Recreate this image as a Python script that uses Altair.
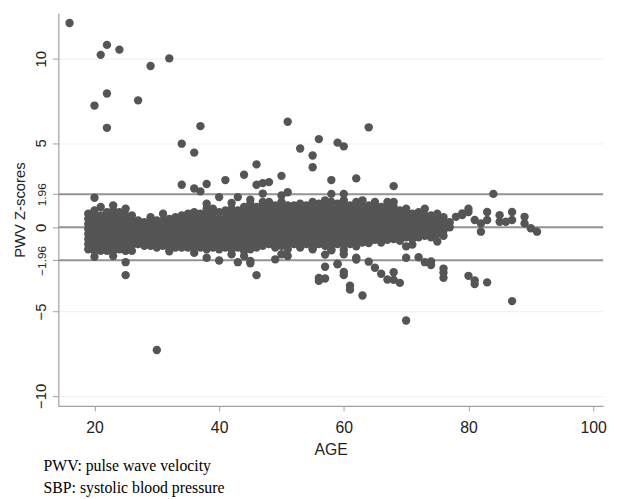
import altair as alt
import pandas as pd

# Dense core of the cloud: z-scores read per integer age
band = {
    19: [-1.3, -1.0, -0.7, -0.4, -0.1, 0.2, 0.5, 0.8],
    20: [-1.75, -1.4, -1.1, -0.8, -0.5, -0.2, 0.1, 0.4, 0.7, 1.0, 1.75],
    21: [-1.4, -1.1, -0.8, -0.5, -0.2, 0.1, 0.4, 0.7, 1.2],
    22: [-1.4, -1.1, -0.8, -0.5, -0.3, 0.0, 0.3, 0.6, 0.9],
    23: [-1.71, -1.4, -1.1, -0.8, -0.5, -0.2, 0.1, 0.4, 0.7, 1.0, 1.3],
    24: [-1.3, -1.0, -0.7, -0.4, -0.1, 0.2, 0.5, 0.9],
    25: [-2.84, -2.07, -1.4, -1.1, -0.8, -0.5, -0.2, 0.1, 0.4, 0.7, 1.1],
    26: [-1.4, -1.1, -0.8, -0.5, -0.2, 0.1, 0.4, 0.7],
    27: [-1.0, -0.7, -0.4, -0.1, 0.2, 0.4],
    28: [-1.1, -0.8, -0.5, -0.2, 0.1, 0.3],
    29: [-1.1, -0.8, -0.5, -0.2, 0.1, 0.3, 0.6],
    30: [-1.2, -0.9, -0.6, -0.3, 0.0, 0.2, 0.4],
    31: [-1.1, -0.8, -0.5, -0.2, 0.1, 0.4, 0.8],
    32: [-1.42, -1.1, -0.8, -0.5, -0.2, 0.1, 0.3, 0.5],
    33: [-1.2, -0.9, -0.6, -0.3, 0.0, 0.3, 0.6],
    34: [-1.2, -0.9, -0.6, -0.3, 0.0, 0.3, 0.5, 0.7],
    35: [-1.2, -0.9, -0.6, -0.3, 0.0, 0.3, 0.5, 0.8],
    36: [-1.52, -1.2, -0.9, -0.6, -0.3, 0.0, 0.3, 0.6, 0.9],
    37: [-1.2, -0.9, -0.6, -0.3, 0.0, 0.3, 0.5, 0.8],
    38: [-1.81, -1.3, -1.0, -0.7, -0.4, -0.1, 0.2, 0.5, 0.8, 1.1, 1.4],
    39: [-1.2, -0.9, -0.6, -0.3, 0.0, 0.3, 0.6, 0.9, 1.1],
    40: [-1.97, -1.3, -1.0, -0.7, -0.4, -0.1, 0.2, 0.5, 0.9, 1.79],
    41: [-1.2, -0.9, -0.6, -0.3, 0.0, 0.3, 0.6, 1.0],
    42: [-1.6, -1.3, -1.0, -0.7, -0.4, -0.1, 0.2, 0.5, 0.8, 1.1, 1.44],
    43: [-2.07, -1.2, -0.9, -0.6, -0.3, 0.0, 0.3, 0.6, 1.0, 1.79],
    44: [-1.71, -1.4, -1.1, -0.8, -0.5, -0.2, 0.1, 0.4, 0.7, 1.0, 1.2],
    45: [-2.14, -2.0, -1.3, -1.0, -0.7, -0.4, -0.1, 0.2, 0.5, 0.8, 1.1, 1.4, 1.63],
    46: [-2.84, -1.2, -0.9, -0.6, -0.3, 0.0, 0.3, 0.6, 0.9, 1.2],
    47: [-1.1, -0.8, -0.5, -0.2, 0.1, 0.4, 0.7, 1.0, 1.3, 1.5],
    48: [-1.0, -0.7, -0.4, -0.1, 0.2, 0.5, 0.8, 1.1, 1.4, 1.5],
    49: [-1.9, -1.2, -0.9, -0.6, -0.3, 0.0, 0.3, 0.6, 0.9, 1.1, 1.3],
    50: [-1.6, -1.1, -0.8, -0.5, -0.2, 0.1, 0.4, 0.7, 1.0, 1.3, 1.5, 1.89],
    51: [-1.7, -1.3, -1.0, -0.7, -0.4, -0.1, 0.2, 0.5, 0.8, 1.1, 1.3],
    52: [-1.0, -0.7, -0.4, -0.1, 0.2, 0.5, 0.8, 1.1, 1.3],
    53: [-1.2, -0.9, -0.6, -0.3, 0.0, 0.3, 0.6, 0.9, 1.2, 1.4],
    54: [-1.0, -0.7, -0.4, -0.1, 0.2, 0.5, 0.8, 1.1, 1.3],
    55: [-1.3, -1.0, -0.7, -0.4, -0.1, 0.2, 0.5, 0.8, 1.1, 1.5],
    56: [-1.0, -0.7, -0.4, -0.1, 0.2, 0.5, 0.8, 1.1, 1.4],
    57: [-1.1, -0.8, -0.5, -0.2, 0.1, 0.4, 0.7, 1.0, 1.3, 1.6],
    58: [-1.3, -1.0, -0.7, -0.4, -0.1, 0.2, 0.5, 0.8, 1.1, 1.5, 1.98],
    59: [-1.0, -0.7, -0.4, -0.1, 0.2, 0.5, 0.8, 1.1, 1.4],
    60: [-1.33, -1.0, -0.7, -0.4, -0.1, 0.2, 0.5, 0.8, 1.1, 1.4, 1.6, 1.98],
    61: [-1.0, -0.7, -0.4, -0.1, 0.2, 0.5, 0.8, 1.1, 1.3],
    62: [-1.13, -0.9, -0.6, -0.3, 0.0, 0.3, 0.6, 0.9, 1.2, 1.5],
    63: [-0.9, -0.6, -0.3, 0.0, 0.3, 0.6, 0.9, 1.2, 1.6],
    64: [-0.94, -0.7, -0.4, -0.1, 0.2, 0.5, 0.8, 1.1, 1.3],
    65: [-0.74, -0.5, -0.2, 0.1, 0.4, 0.7, 1.0, 1.3, 1.5],
    66: [-0.9, -0.6, -0.3, 0.0, 0.3, 0.6, 0.9, 1.2],
    67: [-0.74, -0.5, -0.2, 0.1, 0.4, 0.7, 1.0, 1.3, 1.5],
    68: [-0.7, -0.4, -0.1, 0.2, 0.5, 0.8, 1.0, 1.2, 1.5],
    69: [-0.8, -0.5, -0.2, 0.1, 0.4, 0.7, 1.0],
    70: [-1.13, -0.6, -0.3, 0.0, 0.3, 0.6, 0.9, 1.1],
    71: [-1.03, -0.7, -0.4, -0.1, 0.2, 0.5, 0.8],
    72: [-0.6, -0.3, 0.0, 0.3, 0.6, 0.9],
    73: [-0.5, -0.2, 0.1, 0.4, 0.7, 1.1],
    74: [-0.6, -0.3, 0.0, 0.3, 0.5, 0.7],
    75: [-0.84, -0.4, -0.1, 0.2, 0.5, 0.8],
    76: [-0.5, -0.2, 0.1, 0.33, 0.6],
}

# Sparse and outlying points (age, z)
outlier_age = [16, 22, 24, 21, 32, 29, 22, 27, 20, 22, 37, 51, 64, 34, 36, 56, 59, 60,
               53, 55, 46, 55, 44, 50, 34, 36, 37, 38, 41, 46, 47, 48, 58, 62, 68, 51,
               47, 84, 30,
               55, 57, 58, 60, 57, 59, 56, 57, 56, 60, 60, 61, 61, 63, 62, 62, 64, 65,
               66, 67, 68, 68, 69, 70, 70, 72, 73, 74, 74, 76, 76, 76, 80, 81, 81, 83,
               87, 59,
               78, 79, 79, 80, 80, 81, 82, 82, 83, 83, 85, 85, 86, 87, 87, 89, 89, 90,
               91, 77, 77]
outlier_z = [12.12, 10.82, 10.54, 10.23, 10.02, 9.57, 7.94, 7.53, 7.22, 5.9, 6.0, 6.26,
             5.93, 4.96, 4.43, 5.23, 5.02, 4.8, 4.67, 4.26, 3.73, 3.56, 3.12, 3.05, 2.52,
             2.3, 2.13, 2.57, 2.8, 2.52, 2.62, 2.68, 2.8, 2.9, 2.44, 2.08, 2.0, 1.98,
             -7.28,
             -1.23, -1.62, -1.37, -1.6, -2.34, -2.16, -3.18, -3.04, -3.0, -2.65, -2.84,
             -3.47, -3.7, -4.05, -1.81, -1.91, -2.04, -2.4, -2.76, -3.1, -3.12, -2.67,
             -3.3, -5.53, -1.81, -1.78, -2.07, -2.03, -2.24, -2.45, -2.69, -3.0, -2.88,
             -3.15, -3.37, -3.27, -4.38, -2.2,
             0.62, 0.72, 0.82, 0.91, 1.1, 0.43, 0.23, -0.26, 0.91, 0.43, 0.72, 0.33,
             0.33, 0.91, 0.43, 0.62, 0.23, -0.06, -0.26, 0.3, 0.0]

ref_lines = [-1.96, 0, 1.96]
y_ticks = [-10, -5, -1.96, 0, 1.96, 5, 10]
x_ticks = [20, 40, 60, 80, 100]
footnotes = ["PWV: pulse wave velocity", "SBP: systolic blood pressure"]

rows = [{"AGE": a, "Z": z} for a, zs in band.items() for z in zs]
rows += [{"AGE": a, "Z": z} for a, z in zip(outlier_age, outlier_z)]
df = pd.DataFrame(rows)
ref_df = pd.DataFrame({"y": ref_lines})

x_scale = alt.Scale(domain=[14.2, 101.6], nice=False, zero=False)
y_scale = alt.Scale(domain=[-10.6, 12.7], nice=False, zero=False)

points = alt.Chart(df).mark_circle(size=72, color="#555555", opacity=1).encode(
    x=alt.X("AGE:Q", scale=x_scale,
            axis=alt.Axis(values=x_ticks, title="AGE", grid=False, tickSize=5,
                          labelFontSize=16, titleFontSize=16, labelPadding=9,
                          titlePadding=6, labelFlush=False)),
    y=alt.Y("Z:Q", scale=y_scale,
            axis=alt.Axis(values=y_ticks, title="PWV Z-scores", grid=True,
                          gridColor="#f0f0f0", tickSize=6, labelAngle=270,
                          labelAlign="center", labelBaseline="bottom",
                          labelFontSize={"condition": {"test": "abs(datum.value) == 1.96", "value": 12}, "value": 15},
                          titleFontSize=15, labelPadding=4, titlePadding=6,
                          labelFlush=False, labelOverlap=False,
                          labelExpr="datum.value == 0 ? '0' : format(datum.value, '')")),
)

rules = alt.Chart(ref_df).mark_rule(color="#939393", strokeWidth=2).encode(
    y=alt.Y("y:Q", scale=y_scale)
)

chart = alt.layer(rules, points).properties(
    width=552, height=398,
    autosize=alt.AutoSizeParams(type="none"),
    padding={"left": 51, "top": 2, "right": 6, "bottom": 91},
    title=alt.TitleParams(
        text=footnotes,
        orient="bottom", anchor="start", frame="group", font="Liberation Serif",
        fontSize=16, fontWeight="normal", lineHeight=22, dx=-15, offset=1,
        color="black"),
).configure_axis(
    labelFont="Liberation Sans", titleFont="Liberation Sans",
    labelColor="#222222", titleColor="#222222", titleFontWeight="normal",
    domainColor="#a0a0a0", tickColor="#a0a0a0", domainWidth=1.2,
).configure_view(stroke=None)

chart.save("out.html", embed_options={"renderer": "svg", "actions": False})
